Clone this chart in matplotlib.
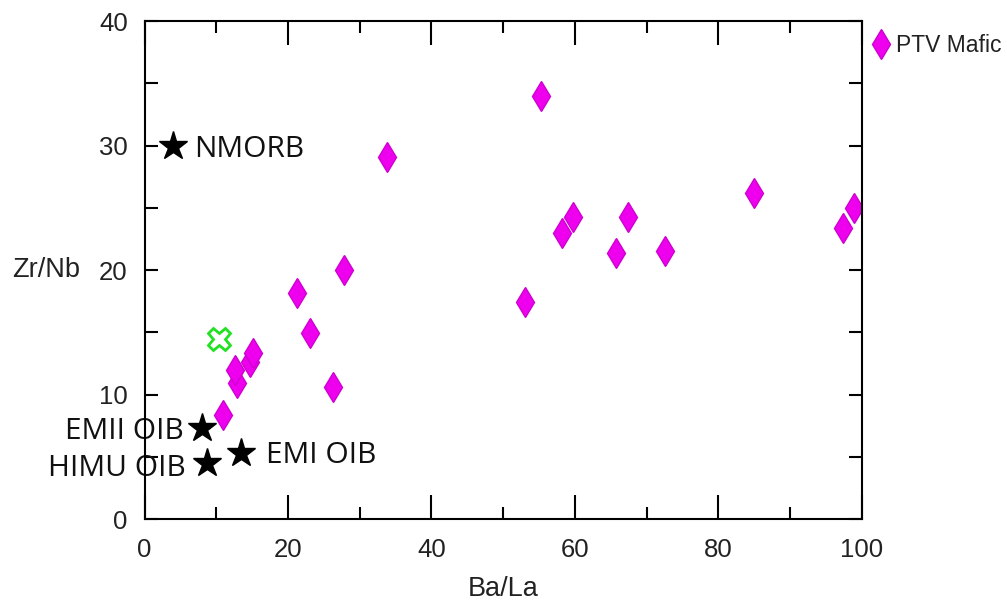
import matplotlib
matplotlib.use("Agg")
import matplotlib.pyplot as plt

# PTV Mafic samples
ba_la = [10.98, 12.85, 12.61, 14.70, 15.16, 23.07, 26.31, 21.2, 27.8, 33.76,
         53.07, 55.3, 58.19, 59.76, 65.7, 67.4, 72.5, 84.95, 97.3, 98.9]
zr_nb = [8.35, 10.90, 11.97, 12.63, 13.31, 14.92, 10.63, 18.18, 20.0, 29.1,
         17.45, 33.98, 22.95, 24.23, 21.39, 24.23, 21.52, 26.16, 23.35, 25.0]

# Reference end-members
ref_names = ["NMORB", "EMII OIB", "HIMU OIB", "EMI OIB"]
ref_ba_la = [4.0, 7.95, 8.65, 13.5]
ref_zr_nb = [30.0, 7.35, 4.5, 5.3]

# Extra point (green cross)
x_ba_la = [10.4]
x_zr_nb = [14.5]

fig = plt.figure(figsize=(10.07, 6.01), dpi=100)
ax = fig.add_axes([0.1435, 0.1364, 0.856 - 0.1435, 0.965 - 0.1364])

ax.plot(ba_la, zr_nb, linestyle="none", marker="d", markersize=15.5,
        markerfacecolor="#EE00EE", markeredgecolor="#D000D0", markeredgewidth=1,
        label="PTV Mafic", zorder=3)
ax.plot(x_ba_la, x_zr_nb, linestyle="none", marker="X", markersize=16.5,
        markerfacecolor="white", markeredgecolor="#22E022", markeredgewidth=2,
        zorder=3)
ax.plot(ref_ba_la, ref_zr_nb, linestyle="none", marker="*", markersize=21,
        color="black", zorder=4)

font_ann = dict(family="Open Sans", fontsize=21.5, color="#111111")
offsets = {"NMORB": (15, -3, "left"), "EMII OIB": (-13, -3, "right"),
           "HIMU OIB": (-15, -4, "right"), "EMI OIB": (18, -2, "left")}
for name, x, y in zip(ref_names, ref_ba_la, ref_zr_nb):
    dx, dy, ha = offsets[name]
    ax.annotate(name, (x, y), xytext=(dx, dy), textcoords="offset points",
                ha=ha, va="center", zorder=2, annotation_clip=False, **font_ann)

ax.set_xlim(0, 100)
ax.set_ylim(0, 40)
ax.set_xticks([0, 20, 40, 60, 80, 100])
ax.set_xticks([10, 30, 50, 70, 90], minor=True)
ax.set_yticks([0, 10, 20, 30, 40])
ax.set_yticks([5, 15, 25, 35], minor=True)

lab_font = dict(family="Liberation Sans", fontsize=19.5, color="#222222")
ax.tick_params(axis="both", which="both", direction="in", top=True, right=True,
               width=1.5, colors="black", labelsize=18.5, labelcolor="#222222")
ax.tick_params(axis="x", which="major", length=17, pad=14)
ax.tick_params(axis="x", which="minor", length=8.5)
ax.tick_params(axis="y", which="both", length=9.5, pad=12)
for lbl in ax.get_xticklabels() + ax.get_yticklabels():
    lbl.set_family("Liberation Sans")
for sp in ax.spines.values():
    sp.set_linewidth(1.5)
    sp.set_zorder(5)

ax.set_xlabel("Ba/La", labelpad=9.5, **lab_font)
ax.set_ylabel("Zr/Nb", rotation=0, ha="center", va="center", **lab_font)
ax.yaxis.set_label_coords(-0.137, 0.5)

leg = ax.legend(loc="upper left", bbox_to_anchor=(0.99, 1.0), frameon=False,
                handletextpad=0.05, borderaxespad=0.15, handlelength=1.2,
                prop=dict(family="Liberation Sans", size=16.5))
for t in leg.get_texts():
    t.set_color("#222222")

fig.savefig("out.png", dpi=100)
